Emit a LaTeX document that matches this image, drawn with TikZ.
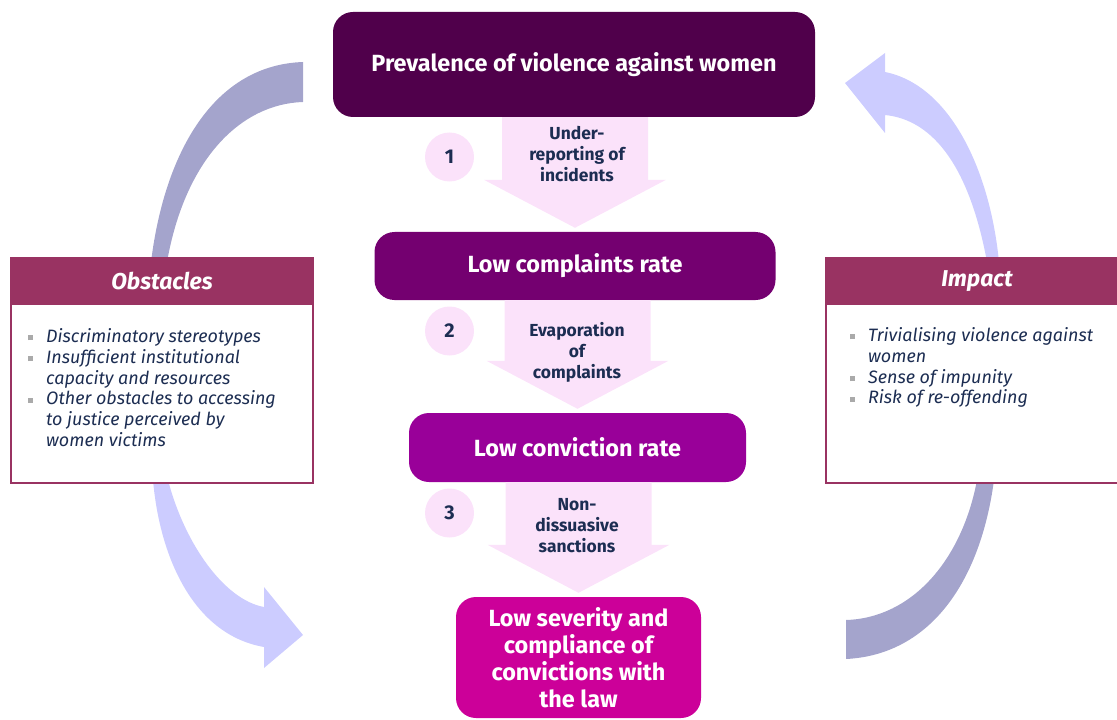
\documentclass[tikz,border=0pt]{standalone}
\usepackage{fontspec}
\setmainfont{Fira Sans}
\usetikzlibrary{calc}
\definecolor{plumA}{RGB}{80,0,75}
\definecolor{plumB}{RGB}{116,0,112}
\definecolor{plumC}{RGB}{153,0,153}
\definecolor{plumD}{RGB}{204,0,153}
\definecolor{flowpink}{RGB}{251,226,250}
\definecolor{navytext}{RGB}{28,45,82}
\definecolor{sidered}{RGB}{153,51,98}
\definecolor{bulgray}{RGB}{170,170,170}
\definecolor{arcback}{RGB}{164,164,204}
\definecolor{arcfront}{RGB}{204,204,255}
\newcommand{\bul}{\makebox[18bp][l]{\textcolor{bulgray}{\rule[2bp]{5bp}{5bp}}}}
\newcommand{\stepflow}[2]{%
  \fill[flowpink] ($(#1.south -| #2.north)+(-73,0)$) -- ($(#1.south -| #2.north)+(73,0)$)
    -- ($(#2.north)+(73,-52)$) -- ($(#2.north)+(91,-52)$) -- ($(#2.north)+(0,-4)$)
    -- ($(#2.north)+(-91,-52)$) -- ($(#2.north)+(-73,-52)$) -- cycle;}
\tikzset{
  stage/.style={rounded corners=20bp, text=white, align=center, inner sep=0pt,
    font=\bfseries\fontsize{23.5}{27}\selectfont},
  stepnum/.style={circle, fill=flowpink, minimum size=49bp, inner sep=0pt,
    text=navytext, font=\bfseries\fontsize{20}{24}\selectfont},
  steplabel/.style={text=navytext, align=center, inner sep=0pt,
    font=\bfseries\fontsize{17.5}{21}\selectfont},
  sidebox/.style={draw=sidered, line width=1.5bp, fill=white, minimum width=302bp,
    minimum height=225bp, inner sep=0pt},
  sidehead/.style={fill=sidered, text=white, minimum width=302bp, minimum height=48bp,
    inner sep=0pt, font=\bfseries\itshape\fontsize{23}{25}\selectfont},
  sidelist/.style={text=navytext, align=left, inner sep=0pt,
    font=\itshape\fontsize{18}{21}\selectfont},
}
\begin{document}
\begin{tikzpicture}[x=1bp,y=-1bp]
\useasboundingbox (0,0) rectangle (1117,720);
%%
% Cycle arcs (back parts)
\fill[arcback] (151,262) .. controls (165,150) and (215,65) .. (303,62) -- (303,102)
  .. controls (240,104) and (185,160) .. (167,262) -- cycle;
\fill[arcback] (994,480) .. controls (980,585) and (928,655) .. (846,659) -- (846,620)
  .. controls (912,618) and (962,560) .. (977,480) -- cycle;
% Cycle arrows (front parts)
\fill[arcfront] (999,262) .. controls (990,170) and (950,85) .. (885,72) -- (885,53)
  -- (845,83) -- (885,133) -- (885,115) .. controls (935,120) and (970,170) .. (987,262) -- cycle;
\fill[arcfront] (153,480) .. controls (160,560) and (195,635) .. (264,647) -- (264,668)
  -- (303,635) -- (264,587) -- (264,607) .. controls (225,600) and (185,545) .. (168,480) -- cycle;
%
% Node: obst
\node[sidebox] (obst) at (162,370.5) {};
\node[sidehead, anchor=north] (obsthead) at (obst.north) {Obstacles};
\node[sidelist, anchor=north west] (obstlist) at (28,328) {%
  \bul Discriminatory stereotypes\\
  \bul Insufficient institutional\\
  \hspace*{18bp}capacity and resources\\
  \bul Other obstacles to accessing\\
  \hspace*{18bp}to justice perceived by\\
  \hspace*{18bp}women victims};
% Node: impact
\node[sidebox] (impact) at (977,370.5) {};
\node[sidehead, anchor=north] (impacthead) at (impact.north) {Impact};
\node[sidelist, anchor=north west] (impactlist) at (850,327) {%
  \bul Trivialising violence against\\
  \hspace*{18bp}women\\
  \bul Sense of impunity\\
  \bul Risk of re-offending};
%
% Node: prevalence
\node[stage, fill=plumA, minimum width=482bp, minimum height=105bp] (prev) at (574,64.5)
  {Prevalence of violence against women};
% Node: complaints
\node[stage, fill=plumB, minimum width=401bp, minimum height=68bp] (comp) at (575,266)
  {Low complaints rate};
% Node: conviction
\node[stage, fill=plumC, minimum width=337bp, minimum height=69bp] (conv) at (577.5,447.5)
  {Low conviction rate};
% Node: severity
\node[stage, fill=plumD, minimum width=245bp, minimum height=121bp] (sev) at (578.5,657.5)
  {Low severity and\\compliance of\\convictions with\\the law};
%
% Edge: prev -> comp
\stepflow{prev}{comp}
\node[steplabel] (flowA) at (577,154) {Under-\\reporting of\\incidents};
\node[stepnum] (numA) at (449.5,157) {1};
% Edge: comp -> conv
\stepflow{comp}{conv}
\node[steplabel] (flowB) at (577,352) {Evaporation\\of\\complaints};
\node[stepnum] (numB) at (449.5,331) {2};
% Edge: conv -> sev
\stepflow{conv}{sev}
\node[steplabel] (flowC) at (577,526) {Non-\\dissuasive\\sanctions};
\node[stepnum] (numC) at (449.5,513) {3};
%
\end{tikzpicture}
\end{document}
